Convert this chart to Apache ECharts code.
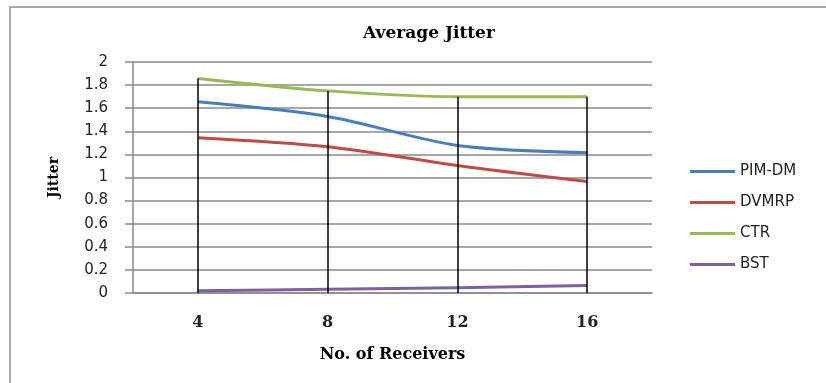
<!DOCTYPE html>
<html>
<head>
<meta charset="utf-8">
<script src="https://cdn.jsdelivr.net/npm/echarts@6/dist/echarts.min.js"></script>
<style>html,body{margin:0;padding:0;background:#fff}#c{width:826px;height:383px}</style>
</head>
<body>
<div id="c"></div>
<script>
const categories = ['4', '8', '12', '16'];
const pimdm = [1.655, 1.528, 1.278, 1.215];
const dvmrp = [1.345, 1.267, 1.104, 0.965];
const ctr = [1.858, 1.75, 1.70, 1.70];
const bst = [0.02, 0.032, 0.046, 0.064];
const seriesNames = ['PIM-DM', 'DVMRP', 'CTR', 'BST'];
const colors = ['#4a7ebb', '#be4b48', '#98b954', '#7d60a0'];
const yTicks = { min: 0, max: 2, interval: 0.2 };

const allSeries = [pimdm, dvmrp, ctr, bst];
const dropLines = categories.map((c, i) => {
  const top = Math.max(...allSeries.map(s => s[i]));
  return [{ xAxis: c, yAxis: top }, { xAxis: c, yAxis: 0 }];
});

const chart = echarts.init(document.getElementById('c'));
const series = allSeries.map((d, k) => ({
  name: seriesNames[k],
  type: 'line',
  data: d,
  smooth: 0.3,
  showSymbol: false,
  symbol: 'none',
  lineStyle: { color: colors[k], width: 3 },
  itemStyle: { color: colors[k] },
  z: 3
}));
series.push({
  name: 'drop',
  type: 'line',
  data: [],
  markLine: {
    silent: true,
    symbol: 'none',
    label: { show: false },
    lineStyle: { color: '#000', width: 1.5, type: 'solid' },
    data: dropLines
  },
  z: 2
});

chart.setOption({
  animation: false,
  backgroundColor: '#fff',
  graphic: [{
    type: 'rect',
    shape: { x: 10, y: 7, width: 900, height: 500 },
    style: { fill: 'none', stroke: '#aaaaaa', lineWidth: 2 },
    silent: true
  }],
  title: {
    text: 'Average Jitter',
    left: 424, top: 20, textAlign: 'center',
    textStyle: { fontFamily: 'DejaVu Serif', fontWeight: 'bold', fontSize: 17, color: '#000' }
  },
  legend: {
    data: seriesNames,
    orient: 'vertical',
    left: 685, top: 159,
    itemWidth: 45, itemHeight: 3, itemGap: 16,
    icon: 'rect',
    textStyle: { fontFamily: 'DejaVu Sans', fontSize: 15, color: '#222' }
  },
  grid: { left: 133, right: 174, top: 62, bottom: 90, containLabel: false },
  xAxis: {
    type: 'category',
    data: categories,
    boundaryGap: true,
    name: 'No. of Receivers',
    nameLocation: 'middle',
    nameGap: 54,
    nameTextStyle: { fontFamily: 'DejaVu Serif', fontWeight: 'bold', fontSize: 16, color: '#000' },
    axisLine: { lineStyle: { color: '#8a8a8a', width: 1.5 } },
    axisTick: { show: false },
    axisLabel: { margin: 22, fontFamily: 'DejaVu Serif', fontWeight: 'bold', fontSize: 16, color: '#222' },
    splitLine: { show: false }
  },
  yAxis: {
    type: 'value',
    min: yTicks.min, max: yTicks.max, interval: yTicks.interval,
    name: 'Jitter',
    nameLocation: 'middle',
    nameGap: 72,
    nameRotate: 90,
    nameTextStyle: { fontFamily: 'DejaVu Serif', fontWeight: 'bold', fontSize: 14, color: '#000' },
    axisLine: { show: true, lineStyle: { color: '#8a8a8a', width: 1.5 } },
    axisTick: { show: true, inside: false, length: 8, lineStyle: { color: '#8a8a8a', width: 1.5 } },
    axisLabel: { margin: 25, fontFamily: 'DejaVu Sans', fontSize: 15, color: '#222' },
    splitLine: { show: true, lineStyle: { color: '#8a8a8a', width: 1.5 } }
  },
  series: series
});
</script>
</body>
</html>
